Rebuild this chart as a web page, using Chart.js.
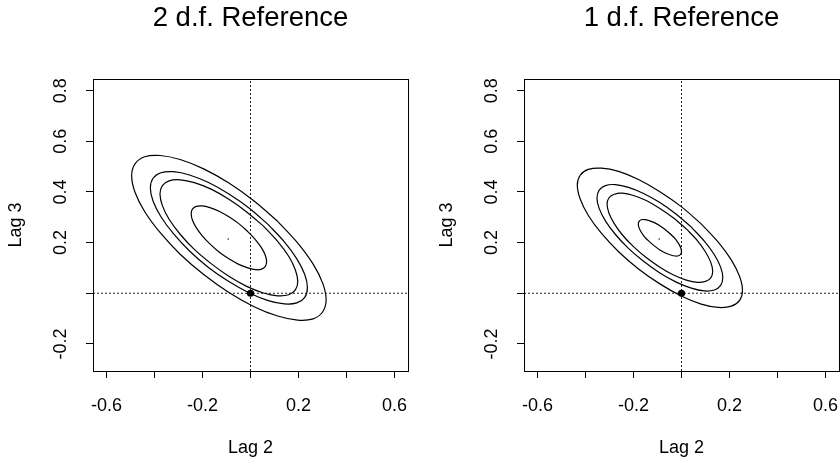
<!DOCTYPE html>
<html>
<head>
<meta charset="utf-8">
<script src="https://cdn.jsdelivr.net/npm/chart.js@4.4.1/dist/chart.umd.min.js"></script>
<style>
  html, body { margin: 0; padding: 0; background: #fff; }
  body { width: 840px; height: 462px; overflow: hidden; position: relative; }
  canvas { position: absolute; top: 0; }
  #chart2df { left: 0; }
  #chart1df { left: 431px; }
</style>
</head>
<body>
<canvas id="chart2df" width="431" height="462"></canvas>
<canvas id="chart1df" width="431" height="462"></canvas>
<script>
// axes, same for both panels
const xLimits = [-0.656, 0.656];
const yLimits = [-0.307, 0.846];
const xTickValues = [-0.6, -0.4, -0.2, 0, 0.2, 0.4, 0.6];
const xTickLabels = ['-0.6', '', '-0.2', '', '0.2', '', '0.6'];
const yTickValues = [-0.2, 0, 0.2, 0.4, 0.6, 0.8];
const yTickLabels = ['-0.2', '', '0.2', '0.4', '0.6', '0.8'];

const estimate = [-0.093, 0.214];   // small dot in the middle
const reference = [0, 0];           // big dot + dotted lines

// contour outlines [lag2, lag3]
// 2 d.f. panel, inner to outer
const c2df50 = [[-.012,.244],[-.049,.275],[-.09,.302],[-.131,.324],[-.169,.338],[-.201,.345],[-.226,.343],[-.242,.332],[-.247,.314],[-.242,.289],[-.226,.259],[-.201,.227],[-.168,.194],[-.131,.163],[-.09,.136],[-.049,.114],[-.011,.100],[.021,.093],[.046,.095],[.062,.106],[.067,.124],[.062,.149],[.046,.179],[.021,.211]];
const c2df90 = [[.054,.265],[-.016,.321],[-.09,.371],[-.164,.411],[-.234,.437],[-.293,.448],[-.339,.444],[-.367,.425],[-.377,.392],[-.367,.346],[-.339,.292],[-.293,.233],[-.234,.173],[-.164,.117],[-.09,.067],[-.016,.027],[.054,.001],[.113,-.010],[.159,-.006],[.187,.013],[.197,.046],[.187,.092],[.159,.146],[.113,.205]];
const c2df95 = [[.074,.271],[-.005,.336],[-.09,.392],[-.175,.437],[-.254,.467],[-.321,.480],[-.373,.476],[-.406,.454],[-.417,.416],[-.406,.364],[-.373,.302],[-.321,.235],[-.254,.167],[-.175,.102],[-.09,.046],[-.005,.001],[.074,-.029],[.141,-.042],[.193,-.038],[.226,-.016],[.237,.022],[.226,.074],[.193,.136],[.141,.203]];
const c2df99 = [[.113,.284],[.015,.364],[-.09,.435],[-.195,.491],[-.293,.528],[-.376,.544],[-.441,.539],[-.481,.511],[-.495,.464],[-.481,.399],[-.441,.323],[-.376,.239],[-.293,.154],[-.195,.074],[-.09,.003],[.015,-.053],[.113,-.090],[.196,-.106],[.261,-.101],[.301,-.073],[.315,-.026],[.301,.039],[.261,.115],[.196,.199]];

// 1 d.f. panel, inner to outer
const c1df50 = [[-.045,.233],[-.067,.251],[-.09,.267],[-.113,.279],[-.135,.287],[-.154,.291],[-.168,.290],[-.177,.283],[-.18,.273],[-.177,.259],[-.168,.242],[-.154,.223],[-.135,.205],[-.113,.187],[-.09,.171],[-.067,.159],[-.045,.151],[-.026,.147],[-.012,.148],[-.003,.155],[0,.165],[-.003,.179],[-.012,.196],[-.026,.215]];
const c1df90 = [[.020,.254],[-.033,.297],[-.090,.335],[-.147,.366],[-.200,.386],[-.246,.395],[-.280,.391],[-.302,.377],[-.310,.351],[-.302,.316],[-.280,.275],[-.246,.230],[-.200,.184],[-.147,.141],[-.090,.103],[-.033,.072],[.020,.052],[.066,.043],[.100,.047],[.122,.061],[.130,.087],[.122,.122],[.100,.163],[.066,.208]];
const c1df95 = [[.041,.261],[-.022,.312],[-.09,.358],[-.158,.394],[-.221,.418],[-.275,.429],[-.317,.425],[-.343,.407],[-.352,.376],[-.343,.335],[-.317,.286],[-.275,.232],[-.221,.177],[-.158,.126],[-.09,.080],[-.022,.044],[.041,.020],[.095,.009],[.137,.013],[.163,.031],[.172,.062],[.163,.103],[.137,.152],[.095,.206]];
const c1df99 = [[.082,.274],[-.001,.342],[-.09,.401],[-.179,.449],[-.262,.481],[-.333,.494],[-.388,.489],[-.422,.466],[-.434,.426],[-.422,.372],[-.388,.307],[-.333,.236],[-.262,.164],[-.179,.096],[-.09,.037],[-.001,-.011],[.082,-.043],[.153,-.056],[.208,-.051],[.242,-.028],[.254,.012],[.242,.066],[.208,.131],[.153,.202]];

Chart.defaults.font.family = "'Liberation Sans', Arial, Helvetica, sans-serif";
Chart.defaults.color = '#000';

// closed outline -> chart points
const toPoints = pts => pts.concat([pts[0]]).map(p => ({ x: p[0], y: p[1] }));

// R style box round the plot region
const boxPlugin = {
  id: 'box',
  afterDraw(chart) {
    const { ctx, chartArea } = chart;
    ctx.save();
    ctx.strokeStyle = '#000';
    ctx.lineWidth = 1;
    ctx.strokeRect(Math.round(chartArea.left) + 0.5, Math.round(chartArea.top) + 0.5,
      Math.round(chartArea.right - chartArea.left), Math.round(chartArea.bottom - chartArea.top));
    ctx.restore();
  }
};

const makeChart = (id, title, contours) => {
  const datasets = [];
  // dots first so they sit on top
  datasets.push({ data: [{ x: reference[0], y: reference[1] }], pointRadius: 3.6, pointBackgroundColor: '#000', pointBorderWidth: 0 });
  datasets.push({ data: [{ x: estimate[0], y: estimate[1] }], pointRadius: 0.7, pointBackgroundColor: '#000', pointBorderWidth: 0 });
  contours.forEach(c => {
    datasets.push({ data: toPoints(c), showLine: true, borderColor: '#000', borderWidth: 1.2, pointRadius: 0, tension: 0.33, fill: false });
  });
  const dotted = { showLine: true, borderColor: '#222', borderWidth: 1, borderDash: [2, 2], pointRadius: 0 };
  datasets.push(Object.assign({ data: [{ x: xLimits[0], y: reference[1] }, { x: xLimits[1], y: reference[1] }] }, dotted));
  datasets.push(Object.assign({ data: [{ x: reference[0], y: yLimits[0] }, { x: reference[0], y: yLimits[1] }] }, dotted));

  return new Chart(document.getElementById(id).getContext('2d'), {
    type: 'scatter',
    data: { datasets: datasets },
    options: {
      responsive: false,
      animation: false,
      devicePixelRatio: 1,
      events: [],
      layout: { padding: { left: 0, top: 0, right: 23, bottom: 0 } },
      plugins: {
        legend: { display: false },
        tooltip: { enabled: false },
        title: {
          display: true, text: title, fullSize: false, color: '#000',
          font: { size: 27.5, weight: 'normal' },
          padding: { top: 2, bottom: 44 }
        }
      },
      scales: {
        x: {
          type: 'linear', min: xLimits[0], max: xLimits[1],
          afterBuildTicks: s => { s.ticks = xTickValues.map(v => ({ value: v })); },
          afterFit: s => { s.height = 91; },
          grid: { drawOnChartArea: false, tickLength: 7, color: '#000' },
          border: { display: false },
          ticks: { autoSkip: false, maxRotation: 0, padding: 17, font: { size: 18 }, callback: (v, i) => xTickLabels[i] },
          title: { display: true, text: 'Lag 2', font: { size: 18 }, padding: { top: 0, bottom: 3 } }
        },
        y: {
          type: 'linear', min: yLimits[0], max: yLimits[1],
          afterBuildTicks: s => { s.ticks = yTickValues.map(v => ({ value: v })); },
          afterFit: s => { s.width = 93; },
          grid: { drawOnChartArea: false, tickLength: 7, color: '#000' },
          border: { display: false },
          ticks: { autoSkip: false, minRotation: 90, maxRotation: 90, crossAlign: 'center', padding: 9.5, font: { size: 18 }, callback: (v, i) => yTickLabels[i] },
          title: { display: true, text: 'Lag 3', font: { size: 18 }, padding: { top: 5, bottom: 0 } }
        }
      }
    },
    plugins: [boxPlugin]
  });
};

makeChart('chart2df', '2 d.f. Reference', [c2df50, c2df90, c2df95, c2df99]);
makeChart('chart1df', '1 d.f. Reference', [c1df50, c1df90, c1df95, c1df99]);
</script>
</body>
</html>
